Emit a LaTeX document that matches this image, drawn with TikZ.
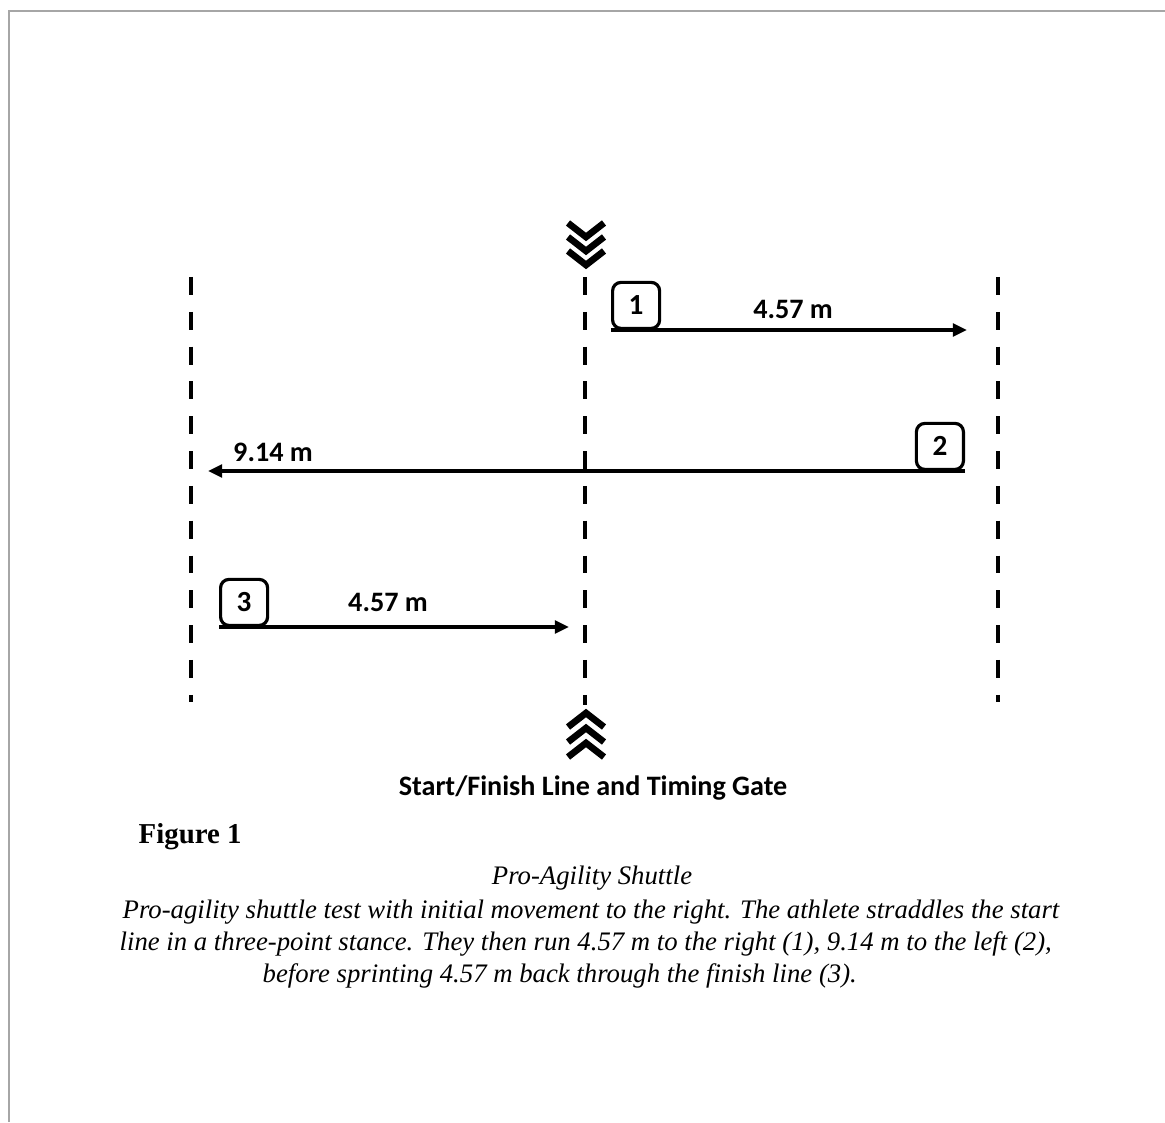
\documentclass[tikz,border=0pt]{standalone}
\usepackage{fontspec}
\setmainfont{Liberation Serif}
\newfontfamily\labelfont{Carlito}
\usetikzlibrary{arrows.meta}

\tikzset{
  cone/.style={line width=1.3pt,dash pattern=on 5.1pt off 4.8pt},
  chev/.style={line width=1.9pt,miter limit=4},
  numbox/.style={draw,line width=0.9pt,rounded corners=2.4pt,minimum width=0.47cm,
    minimum height=0.46cm,inner sep=0pt,font=\labelfont\bfseries\fontsize{8.3}{9}\selectfont},
  dist/.style={anchor=base,font=\labelfont\bfseries\fontsize{8}{9}\selectfont},
  run/.style={line width=0.9pt,->},
  capline/.style={anchor=base west,inner sep=0pt,font=\itshape\fontsize{7.6}{9}\selectfont}
}

\begin{document}
\begin{tikzpicture}[x=0.01cm,y=-0.01cm,>={Triangle[length=4pt,width=3.6pt]}]
	  \useasboundingbox (0,0) rectangle (1165,1122);
	  \draw[gray!70,line width=0.6pt] (9,1122) -- (9,11) -- (1165,11);
	  % cones
	  \coordinate (ltop) at (191,277);
	  \coordinate (lbot) at (191,702);
	  \coordinate (ctop) at (585,277);
	  \coordinate (cbot) at (585,705);
	  \coordinate (rtop) at (998,277);
	  \coordinate (rbot) at (998,702);
	  \draw[cone] (ltop) -- (lbot);
	  \draw[cone] (ctop) -- (cbot);
	  \draw[cone] (rtop) -- (rbot);
	  % timing gate
	  \foreach \k in {0,1,2} {
	    \draw[chev] (568,223+14*\k) -- (586,237+14*\k) -- (604,223+14*\k);
	    \draw[chev] (568,727+15*\k) -- (586,713+15*\k) -- (604,727+15*\k);
	  }
	  \node[dist] (gate) at (593,795) {Start/Finish Line and Timing Gate};
	  % run 1
	  \node[numbox,anchor=south west] (b1) at (611,330) {1};
	  \coordinate (e1) at (967,330);
	  \draw[run] (b1.south west) -- (e1);
	  \node[dist] (d1) at (793,319) {4.57 m};
	  % run 2
	  \node[numbox,anchor=south east] (b2) at (965,471) {2};
	  \coordinate (e2) at (208,471);
	  \draw[run] (b2.south east) -- (e2);
	  \node[dist] (d2) at (273,461) {9.14 m};
	  % run 3
	  \node[numbox,anchor=south west] (b3) at (219,627) {3};
	  \coordinate (e3) at (569,627);
	  \draw[run] (b3.south west) -- (e3);
	  \node[dist] (d3) at (388,611) {4.57 m};
	  % caption
	  \node[anchor=base west,inner sep=0pt,font=\bfseries\fontsize{8.2}{9}\selectfont] (fig) at (138,843) {Figure 1};
	  \node[capline,anchor=base] (cap0) at (592,884) {Pro-Agility Shuttle};
	  \node[capline] (cap1) at (122,918) {Pro-agility shuttle test with initial movement to the right. The athlete straddles the start};
	  \node[capline] (cap2) at (119,950) {line in a three-point stance. They then run 4.57 m to the right (1), 9.14 m to the left (2),};
	  \node[capline] (cap3) at (262,982) {before sprinting 4.57 m back through the finish line (3).};
	\end{tikzpicture}
\end{document}
